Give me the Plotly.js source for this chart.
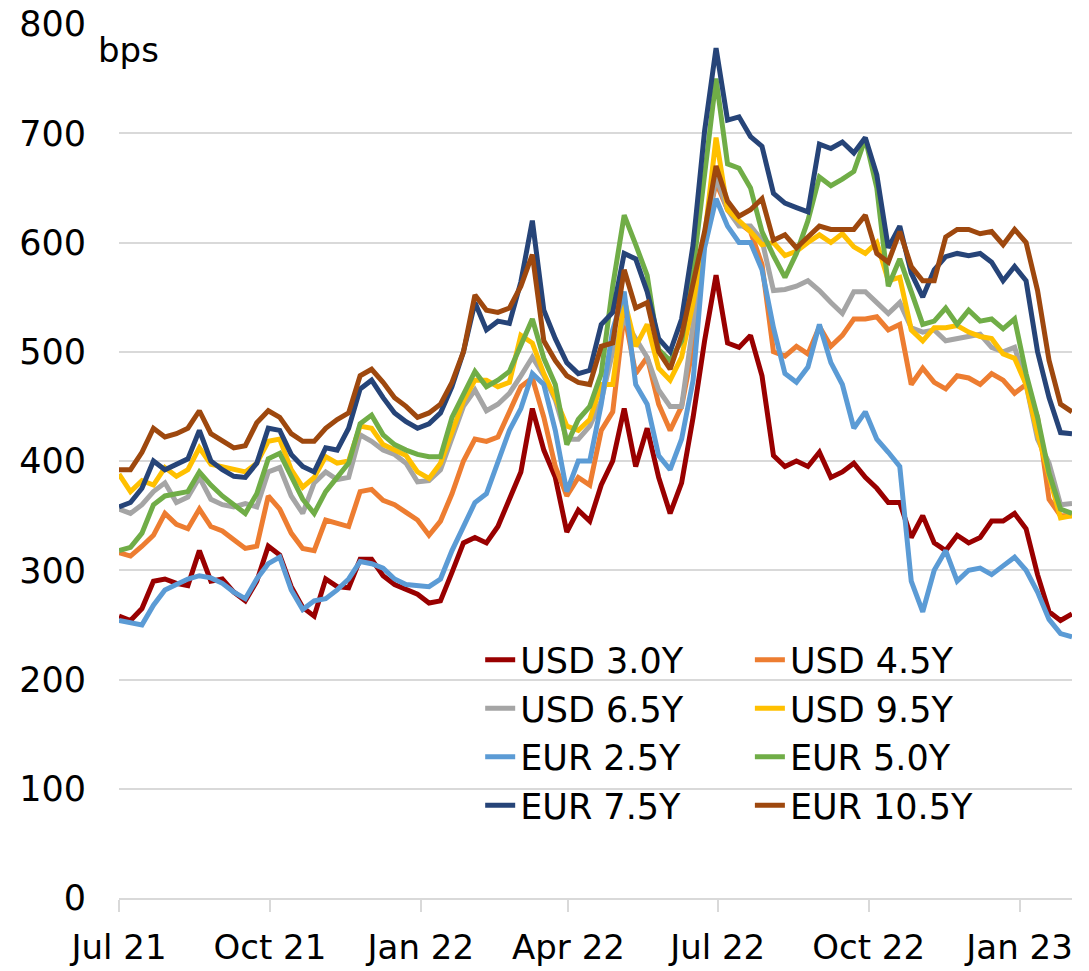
<!DOCTYPE html>
<html>
<head>
<meta charset="utf-8">
<script src="https://cdn.plot.ly/plotly-3.0.1.min.js"></script>
<style>
  html, body { margin: 0; padding: 0; background: #fff; }
  #chart { width: 1089px; height: 971px; }
</style>
</head>
<body>
<div id="chart"></div>
<script>
// weekly observations, Jul 2021 - Feb 2023 (bps)
const dates = [];
const t0 = Date.UTC(2021, 6, 1);
for (let i = 0; i < 84; i++) {
    dates.push(new Date(t0 + i * 7 * 86400000).toISOString().slice(0, 10));
}

const usd30 = [258,254,265,290,292,288,286,318,290,292,280,272,290,322,314,285,266,258,292,285,
               284,310,310,295,287,282,278,270,272,298,325,330,325,340,364,390,448,410,385,335,
               355,345,378,400,448,395,430,385,352,380,440,510,570,508,504,515,478,405,395,400,
               395,408,385,390,398,385,375,362,362,330,350,325,318,332,325,330,345,345,352,338,
               296,262,254,260];
const usd45 = [316,313,322,332,352,342,338,356,340,336,328,320,322,368,356,334,320,318,346,343,
               340,372,374,364,360,353,346,332,345,370,400,420,418,422,446,468,476,440,395,368,
               385,378,428,445,535,480,495,452,428,450,505,605,655,630,618,610,580,500,496,505,
               498,523,505,515,530,530,532,520,525,470,485,472,466,478,476,470,480,474,462,470,
               440,365,350,350];
const usd65 = [356,352,360,372,380,362,367,385,365,360,358,361,358,390,394,368,352,380,390,383,
               385,424,418,410,406,398,381,382,392,420,450,465,446,452,462,478,495,478,456,420,
               420,432,455,500,530,512,495,465,450,450,525,600,660,630,615,615,602,556,557,560,
               565,556,545,535,555,555,545,535,545,522,518,520,510,512,514,516,504,500,504,470,
               420,398,360,361];
const usd95 = [388,372,382,378,394,386,392,412,397,395,393,390,398,418,420,392,376,385,404,398,
               400,432,430,415,410,405,390,384,398,425,455,474,474,468,472,515,508,480,458,432,
               428,438,470,470,548,505,525,485,474,495,545,605,696,630,620,610,598,600,588,592,
               600,607,600,608,596,590,600,565,568,520,510,522,522,524,518,514,512,498,494,470,
               425,385,348,350];
const eur25 = [254,252,250,268,282,287,292,295,293,288,280,274,292,306,312,282,264,272,274,282,
               292,308,306,302,292,287,286,285,292,318,340,362,370,400,428,448,480,470,428,372,
               400,400,452,520,555,470,452,405,392,420,474,595,640,615,600,600,575,522,480,472,
               486,525,490,470,430,445,420,408,395,290,262,300,318,290,300,302,296,304,312,300,
               280,255,242,239];
const eur50 = [318,321,334,360,368,370,372,390,378,368,360,352,370,402,407,385,365,352,372,385,
               398,434,442,424,415,410,406,404,404,440,460,482,468,474,482,505,530,494,470,415,
               438,450,480,560,625,598,570,502,492,510,575,662,750,672,668,650,610,588,568,590,
               620,660,652,658,665,695,650,560,585,555,525,528,540,525,538,528,530,521,530,480,
               440,389,356,352];
const eur75 = [358,362,375,400,392,397,402,428,400,392,386,385,398,430,428,406,395,390,412,410,
               430,466,474,458,444,436,430,434,444,468,500,545,520,528,526,564,620,538,512,490,
               480,483,525,536,590,585,555,512,500,530,598,702,778,712,715,697,688,645,636,632,
               628,690,686,692,682,696,662,595,615,572,550,575,587,590,588,590,582,565,578,565,
               500,458,426,425];
const eur105 = [392,392,408,430,422,425,430,446,425,418,412,414,435,446,440,425,418,418,430,438,
                444,478,484,472,458,450,440,444,452,472,500,552,538,536,540,560,589,510,492,478,
                472,470,505,508,575,540,545,500,484,515,565,610,670,638,624,630,640,602,607,595,
                605,615,612,612,612,625,590,582,610,578,565,565,605,612,612,608,610,598,612,600,
                556,492,452,445];

const seriesNames = ['USD 3.0Y', 'USD 4.5Y', 'USD 6.5Y', 'USD 9.5Y',
                     'EUR 2.5Y', 'EUR 5.0Y', 'EUR 7.5Y', 'EUR 10.5Y'];
const seriesValues = [usd30, usd45, usd65, usd95, eur25, eur50, eur75, eur105];
const seriesColors = ['#990000', '#ED7D31', '#A5A5A5', '#FFC000',
                      '#5B9BD5', '#70AD47', '#264478', '#9E480E'];

const tickDates = ['2021-07-01', '2021-10-01', '2022-01-01', '2022-04-01',
                   '2022-07-01', '2022-10-01', '2023-01-01'];
const tickLabels = ['Jul 21', 'Oct 21', 'Jan 22', 'Apr 22', 'Jul 22', 'Oct 22', 'Jan 23'];

const font = 'DejaVu Sans, Verdana, sans-serif';

// legend is laid out in two columns: even entries left, odd entries right
var data = seriesNames.map(function (name, k) {
    return {
        type: 'scatter',
        mode: 'lines',
        name: name,
        x: dates,
        y: seriesValues[k],
        legend: (k % 2 === 0) ? 'legend' : 'legend2',
        line: {color: seriesColors[k], width: 5}
    };
});

var legendStyle = {
    orientation: 'v',
    y: 0.306,
    xanchor: 'left',
    yanchor: 'top',
    bgcolor: 'rgba(0,0,0,0)',
    font: {family: font, size: 35, color: '#000000'},
    traceorder: 'normal'
};

var layout = {
    width: 1089,
    height: 971,
    margin: {l: 119, r: 17, t: 24, b: 73},
    paper_bgcolor: '#ffffff',
    plot_bgcolor: '#ffffff',
    font: {family: font, size: 34, color: '#000000'},
    showlegend: true,
    hovermode: false,
    xaxis: {
        type: 'date',
        range: ['2021-07-01', '2023-02-02'],
        tickvals: tickDates,
        ticktext: tickLabels,
        showgrid: false,
        showline: true,
        linecolor: '#d9d9d9',
        linewidth: 2,
        ticks: 'outside',
        ticklen: 12,
        tickwidth: 2,
        tickcolor: '#d9d9d9',
        ticklabelstandoff: 6,
        tickfont: {family: font, size: 34, color: '#000000'},
        zeroline: false
    },
    yaxis: {
        range: [0, 800],
        tickvals: [0, 100, 200, 300, 400, 500, 600, 700, 800],
        showgrid: true,
        gridcolor: '#d9d9d9',
        gridwidth: 2,
        zeroline: false,
        showline: false,
        ticks: '',
        ticklabelstandoff: 32,
        tickfont: {family: font, size: 35, color: '#000000'}
    },
    legend: Object.assign({x: 0.379}, legendStyle),
    legend2: Object.assign({x: 0.662}, legendStyle),
    annotations: [{
        text: 'bps',
        xref: 'paper',
        yref: 'paper',
        x: -0.024,
        y: 0.995,
        xanchor: 'left',
        yanchor: 'top',
        showarrow: false,
        font: {family: font, size: 34, color: '#000000'}
    }]
};

Plotly.newPlot('chart', data, layout, {displayModeBar: false, staticPlot: true});
</script>
</body>
</html>
